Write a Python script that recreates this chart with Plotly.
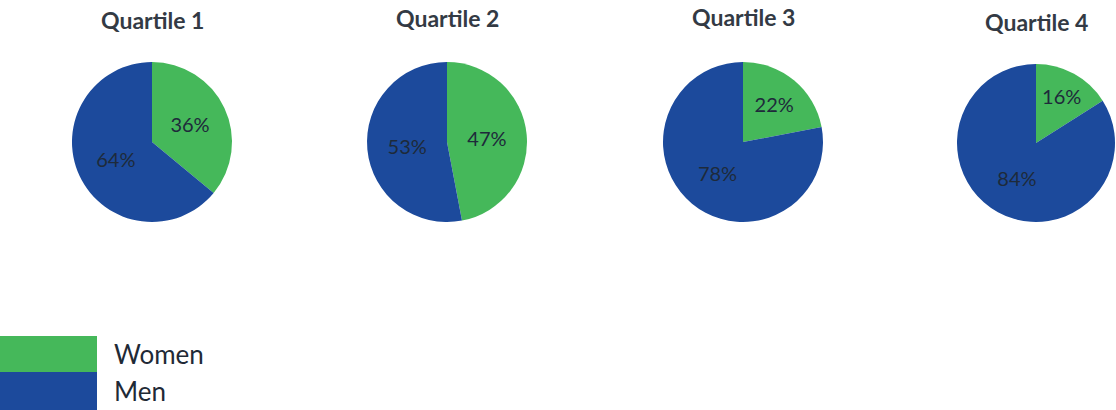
import plotly.graph_objects as go

quartiles = ["Quartile 1", "Quartile 2", "Quartile 3", "Quartile 4"]
groups = ["Women", "Men"]
women_pct = [36, 47, 22, 16]
men_pct = [64, 53, 78, 84]
colors = ["#45b85a", "#1c4a9c"]

W, H = 1116, 410
centers_x = [152, 447, 743, 1036]
title_y = [20, 18, 17, 22]
center_y = [142, 142, 142, 143]
radius = [80, 80, 80, 79]
FONT = "Lato, Open Sans, sans-serif"

fig = go.Figure()
for i, q in enumerate(quartiles):
    cx, cy, r = centers_x[i], center_y[i], radius[i]
    x0, x1 = (cx - r) / W, min((cx + r) / W, 1.0)
    y0, y1 = 1 - (cy + r) / H, 1 - (cy - r) / H
    fig.add_trace(go.Pie(
        labels=groups,
        values=[women_pct[i], men_pct[i]],
        sort=False,
        direction="clockwise",
        rotation=0,
        marker=dict(colors=colors, line=dict(width=0)),
        texttemplate="%{value}%",
        textposition="inside",
        insidetextorientation="horizontal",
        textfont=dict(family=FONT, size=20, color="#1e2a3a"),
        domain=dict(x=[x0, x1], y=[y0, y1]),
        showlegend=False,
        hoverinfo="label+percent",
        name=q,
    ))
    fig.add_annotation(
        text="<b>" + q + "</b>", x=cx / W, y=1 - title_y[i] / H, xref="paper", yref="paper",
        showarrow=False, font=dict(family=FONT, size=23, color="#333a44"),
        xanchor="center", yanchor="middle",
    )

# legend blocks
legend_tops = [336, 372]
legend_bottoms = [372, 410]
for g, c, t, b in zip(groups, colors, legend_tops, legend_bottoms):
    fig.add_shape(type="rect", xref="paper", yref="paper",
                  x0=0, x1=97 / W, y0=1 - b / H, y1=1 - t / H,
                  fillcolor=c, line=dict(width=0))
    fig.add_annotation(text=g, x=112 / W, y=1 - ((t + b) / 2) / H, xref="paper", yref="paper",
                       showarrow=False, xanchor="left", yanchor="middle",
                       font=dict(family=FONT, size=26, color="#1f2a36"))

fig.update_layout(
    width=W, height=H,
    margin=dict(l=0, r=0, t=0, b=0),
    paper_bgcolor="white", plot_bgcolor="white",
    showlegend=False,
)
fig.write_html("out.html", config={"displayModeBar": False},
               post_script="document.body.style.margin='0';document.body.style.overflow='hidden';")
